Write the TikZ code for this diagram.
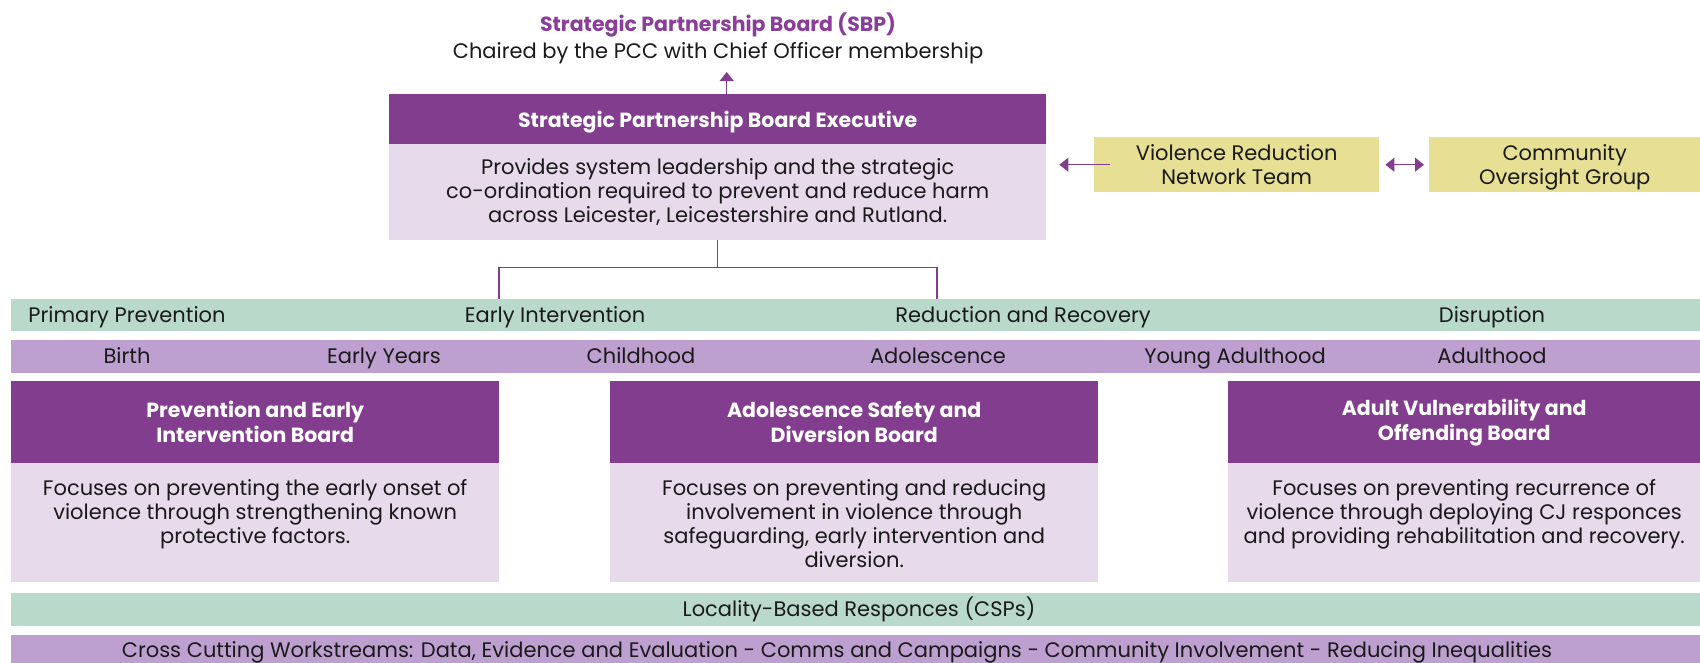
\documentclass[tikz,border=0pt]{standalone}
\usepackage{fontspec}
\setmainfont{Poppins}
\usetikzlibrary{arrows.meta,positioning,calc}
\definecolor{plum}{HTML}{823D8F}
\definecolor{lavender}{HTML}{E6DAEB}
\definecolor{mint}{HTML}{B9DACB}
\definecolor{lilac}{HTML}{BEA0D0}
\definecolor{straw}{HTML}{E6DF94}
\definecolor{titlepurple}{HTML}{8A3E99}
\definecolor{ink}{HTML}{1A1A1A}

\begin{document}
\begin{tikzpicture}[x=1pt,y=-1pt,
  every node/.style={font=\fontsize{21}{24}\selectfont, text=ink},
  headbox/.style={fill=plum, text=white, font=\fontsize{20.5}{25}\selectfont\bfseries, align=center, anchor=north west, inner sep=0pt},
  bodybox/.style={fill=lavender, anchor=north west, inner sep=0pt},
  sidebox/.style={fill=straw, align=center, anchor=north west, inner sep=0pt},
  boardtext/.style={anchor=north, align=center, inner sep=0pt},
  bandlabel/.style={text height=15pt, text depth=5pt, inner sep=0pt},
  link/.style={plum, line width=1.2pt},
  tip/.style={-{Triangle[width=14pt,length=9pt]}}]

  \useasboundingbox[fill=white] (0,0) rectangle (1700,662);

  % Top board and executive
  \node[align=center] (sbp) at (718,38) {{\color{titlepurple}\bfseries\fontsize{20.5}{24}\selectfont Strategic Partnership Board (SBP)}\\[3pt]Chaired by the PCC with Chief Officer membership};
  \node[headbox, text height=19pt, text depth=2pt, minimum width=657pt, minimum height=50pt] (exechead) at (389,94) {Strategic Partnership Board Executive};
  \node[bodybox, align=center, minimum width=657pt, minimum height=96pt] (execbody) at (389,144) {Provides system leadership and the strategic\\co-ordination required to prevent and reduce harm\\across Leicester, Leicestershire and Rutland.};
  \coordinate (upfoot) at ([xshift=9pt]exechead.north);
  \draw[link, tip] (upfoot) -- ++(0,-22);

  % Side groups
  \node[sidebox, minimum width=285pt, minimum height=55pt] (vrn) at (1094,137) {Violence Reduction\\Network Team};
  \node[sidebox, text depth=0pt, minimum width=271pt, minimum height=55pt] (cog) at (1429,137) {Community\\Oversight Group};
  \draw[link, tip] ([xshift=16pt]vrn.west) -- ($(execbody.east |- vrn.west)+(13,0)$);
  \draw[link, {Triangle[width=14pt,length=9pt]}-{Triangle[width=14pt,length=9pt]}] ([xshift=6pt]vrn.east) -- ([xshift=-5pt]cog.west);

  % Branch down to the bands
  \coordinate (split) at ($(execbody.south)+(0,27)$);
  \coordinate (leftdrop) at (499,299);
  \coordinate (rightdrop) at (937,299);
  \draw[link] (execbody.south) -- (split);
  \draw[link] (leftdrop) |- (split) -| (rightdrop);

  % Bands
  \fill[mint] (11,299) rectangle (1700,331);
  \fill[lilac] (11,340) rectangle (1700,373);
  \foreach \x/\lbl [count=\i] in {127/Primary Prevention, 555/Early Intervention, 1023/Reduction and Recovery, 1492/Disruption}
    \node[bandlabel] (stage\i) at (\x,317) {\lbl};
  \foreach \x/\lbl [count=\i] in {127/Birth, 384/Early Years, 641/Childhood, 938/Adolescence, 1235/Young Adulthood, 1492/Adulthood}
    \node[bandlabel] (age\i) at (\x,358) {\lbl};

  % Boards
  \node[headbox, minimum width=488pt, minimum height=82pt] (peihead) at (11,381) {Prevention and Early\\Intervention Board};
  \node[bodybox, minimum width=488pt, minimum height=119pt] (peibody) at (11,463) {};
  \node[boardtext] (peitext) at ($(peibody.north)+(0,16)$) {Focuses on preventing the early onset of\\violence through strengthening known\\protective factors.};

  \node[headbox, minimum width=488pt, minimum height=82pt] (asdhead) at (610,381) {Adolescence Safety and\\Diversion Board};
  \node[bodybox, minimum width=488pt, minimum height=119pt] (asdbody) at (610,463) {};
  \node[boardtext] (asdtext) at ($(asdbody.north)+(0,16)$) {Focuses on preventing and reducing\\involvement in violence through\\safeguarding, early intervention and\\diversion.};

  \node[headbox, minimum width=472pt, minimum height=82pt] (avohead) at (1228,381) {Adult Vulnerability and\\Offending Board};
  \node[bodybox, minimum width=472pt, minimum height=119pt] (avobody) at (1228,463) {};
  \node[boardtext] (avotext) at ($(avobody.north)+(0,16)$) {Focuses on preventing recurrence of\\violence through deploying CJ responces\\and providing rehabilitation and recovery.};

  % Cross cutting bands
  \fill[mint] (11,593) rectangle (1700,626);
  \node[bandlabel] (locality) at (859,611) {Locality-Based Responces (CSPs)};
  \fill[lilac] (11,635) rectangle (1700,670);
  \node[bandlabel] (crosscut) at (837,652) {Cross Cutting Workstreams: Data, Evidence and Evaluation - Comms and Campaigns - Community Involvement - Reducing Inequalities};
\end{tikzpicture}
\end{document}
